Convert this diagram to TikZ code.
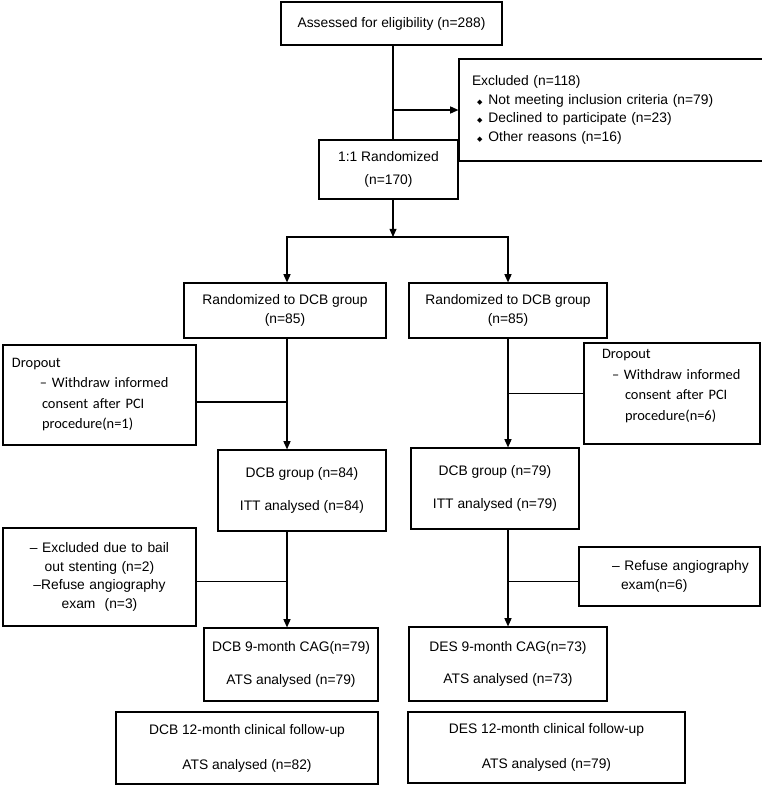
\documentclass[tikz,border=0pt]{standalone}
\usepackage{fontspec}
\setmainfont{Liberation Sans}
\newfontfamily\calfont{Carlito}
\newfontfamily\symfont{DejaVu Sans}
\usepackage{tikz}
\usetikzlibrary{
  arrows.meta,
  positioning
}
\newlength\unitpx
\setlength\unitpx{0.03cm}
\newcommand{\bul}{\hspace*{5\unitpx}{\symfont\fontsize{6}{6}\selectfont ◆}\hspace*{6\unitpx}}

\begin{document}
\begin{tikzpicture}[x=0.03cm, y=-0.03cm,
    every node/.style={font=\fontsize{11.8}{16}\selectfont},
    field/.style={draw, line width=1pt, rectangle, inner sep=0pt, align=center},
    textfield/.style={field, align=left, inner xsep=8\unitpx},
    link/.style={line width=1pt},
    arrow/.style={link, -{Triangle[length=7pt, width=6pt]}}]
\useasboundingbox (0,0) rectangle (762,786);

\node [field, minimum width=221\unitpx, minimum height=43\unitpx] (assess) at (391.5,23.5) {Assessed for eligibility (n=288)};
\node [textfield, text width=279\unitpx, minimum height=102\unitpx, inner xsep=13\unitpx] (excl) at (611.5,110)
  {Excluded (n=118)\\ \bul Not meeting inclusion criteria (n=79)\\ \bul Declined to participate (n=23)\\ \bul Other reasons (n=16)};
\node [field, minimum width=139\unitpx, minimum height=59\unitpx] (rand) at (388.5,169.5) {1:1 Randomized\\[4pt] (n=170)};

\node [field, minimum width=202\unitpx, minimum height=55\unitpx] (randL) at (285,310.5) {Randomized to DCB group\\ (n=85)};
\node [field, minimum width=198\unitpx, minimum height=55\unitpx] (randR) at (508,310.5) {Randomized to DCB group\\ (n=85)};

\node [textfield, text width=177\unitpx, minimum height=100\unitpx, font=\calfont\fontsize{12.3}{17.5}\selectfont] (dropL) at (99.5,395)
  {\hspace*{1\unitpx}Dropout\\ \hspace*{29\unitpx}– Withdraw informed\\ \hspace*{31\unitpx}consent after PCI\\ \hspace*{31\unitpx}procedure(n=1)\rule[-3pt]{0pt}{0pt}};
\node [textfield, text width=160\unitpx, minimum height=101\unitpx, font=\calfont\fontsize{12.3}{17.5}\selectfont] (dropR) at (672,393.5)
  {\hspace*{10\unitpx}Dropout\\ \hspace*{20\unitpx}– Withdraw informed\\ \hspace*{33\unitpx}consent after PCI\\ \hspace*{33\unitpx}procedure(n=6)\rule[-15pt]{0pt}{0pt}};

\node [field, minimum width=168\unitpx, minimum height=81\unitpx] (dcbL) at (302,490.5) {DCB group (n=84)\\[12pt] ITT analysed (n=84)};
\node [field, minimum width=168\unitpx, minimum height=81\unitpx] (dcbR) at (495,488.5) {DCB group (n=79)\\[12pt] ITT analysed (n=79)};

\node [field, text width=175\unitpx, minimum height=98\unitpx, inner xsep=9\unitpx] (bailL) at (99.5,577)
  {– Excluded due to bail\\ out stenting (n=2)\\ –Refuse angiography\\ exam\ \ (n=3)};
\node [textfield, text width=171\unitpx, minimum height=59\unitpx, inner xsep=5\unitpx] (refR) at (669.5,576.5)
  {\hspace*{28\unitpx}– Refuse angiography\\ \hspace*{37\unitpx}exam(n=6)};

\node [field, minimum width=174\unitpx, minimum height=73\unitpx] (cagL) at (291,664.5) {DCB 9-month CAG(n=79)\\[12pt] ATS analysed (n=79)};
\node [field, minimum width=198\unitpx, minimum height=74\unitpx] (cagR) at (508,664) {DES 9-month CAG(n=73)\\[12pt] ATS analysed (n=73)};

\node [field, minimum width=262\unitpx, minimum height=72\unitpx] (fuL) at (247,748) {DCB 12-month clinical follow-up\\[14pt] ATS analysed (n=82)};
\node [field, minimum width=277\unitpx, minimum height=71\unitpx] (fuR) at (546.5,747.5) {DES 12-month clinical follow-up\\[14pt] ATS analysed (n=79)};

\coordinate (trunk) at (393,0);
\coordinate (split) at (393,237);
\coordinate (colL) at (287,0);
\coordinate (colR) at (508,0);

\draw [link] (assess.south -| trunk) -- (rand.north -| trunk);
\draw [arrow] (excl.west -| trunk) -- (excl.west);
\draw [arrow] (rand.south -| trunk) -- (split);
\draw [arrow] (split) -| (randL.north -| colL);
\draw [arrow] (split) -| (randR.north -| colR);

\draw [arrow] (randL.south -| colL) -- (dcbL.north -| colL);
\draw [link] ([yshift=-6pt]dropL.east) -- ([yshift=-6pt]dropL.east -| colL);
\draw [arrow] (dcbL.south -| colL) -- (cagL.north -| colL);
\draw [link] ([yshift=-3.5pt]bailL.east) -- ([yshift=-3.5pt]bailL.east -| colL);

\draw [arrow] (randR.south -| colR) -- (dcbR.north -| colR);
\draw [link] (dropR.west) -- (dropR.west -| colR);
\draw [arrow] (dcbR.south -| colR) -- (cagR.north -| colR);
\draw [link] ([yshift=-4pt]refR.west) -- ([yshift=-4pt]refR.west -| colR);
\end{tikzpicture}
\end{document}
